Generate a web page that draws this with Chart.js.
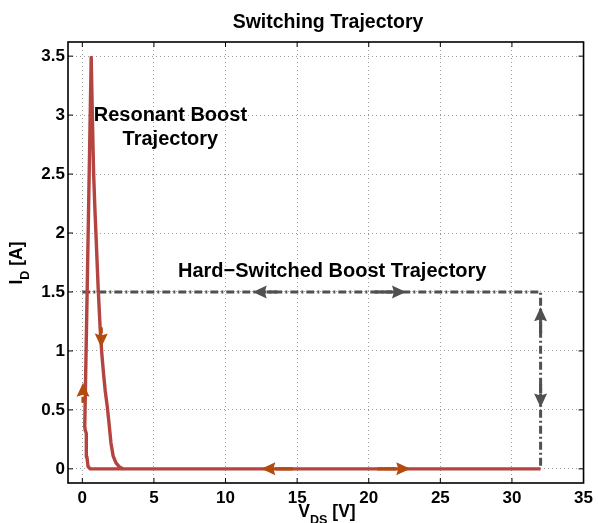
<!DOCTYPE html>
<html>
<head>
<meta charset="utf-8">
<script src="https://cdn.jsdelivr.net/npm/chart.js@4.4.1/dist/chart.umd.min.js"></script>
<style>
  html, body { margin: 0; padding: 0; background: #fff; }
  #wrap { width: 598px; height: 523px; }
</style>
</head>
<body>
<div id="wrap"><canvas id="traj" width="598" height="523"></canvas></div>
<script>
// tick values
var vTicks = [0, 5, 10, 15, 20, 25, 30, 35];
var iTicks = [0, 0.5, 1, 1.5, 2, 2.5, 3, 3.5];

// resonant boost loop (V_DS in V, I_D in A)
var resV = [32, 2.83, 0.55, 0.4, 0.32, 0.28, 0.2, 0.17, 0.36, 0.62,
            0.7, 0.79, 0.88, 0.97, 1.1, 1.25, 1.36, 1.48, 1.6, 1.74, 1.87, 2.0, 2.15, 2.35, 2.6, 2.83];
var resI = [0, 0, 0, 0.02, 0.1, 0.3, 0.33, 0.36, 1.66, 3.49,
            3.0, 2.5, 2.2, 1.94, 1.55, 1.18, 0.98, 0.81, 0.66, 0.53, 0.38, 0.22, 0.11, 0.05, 0.015, 0];

// hard-switched boost trajectory
var hardV = [0, 32, 32];
var hardI = [1.5, 1.5, 0];

// arrows: from (tail) -> to (tip)
var redFromV = [0.05, 1.32, 14.7, 20.6];
var redFromI = [0.56, 1.2, 0, 0];
var redToV   = [0.05, 1.32, 12.5, 22.9];
var redToI   = [0.73, 1.03, 0, 0];
var grayFromV = [13.6, 20.4, 32, 32];
var grayFromI = [1.5, 1.5, 1.15, 0.72];
var grayToV   = [11.9, 22.6, 32, 32];
var grayToI   = [1.5, 1.5, 1.37, 0.52];

var RED = '#b3443f', ORANGE = '#b44a0c', GRAY = '#505050';
var FONT = '"Liberation Sans", Arial, Helvetica, sans-serif';

function pts(xs, ys) {
  return xs.map(function (v, i) { return { x: v, y: ys[i] }; });
}

function drawArrow(ctx, x0, y0, x1, y1, color) {
  var a = Math.atan2(y1 - y0, x1 - x0);
  var hl = 14, hw = 13;
  var bx = x1 - hl * Math.cos(a), by = y1 - hl * Math.sin(a);
  ctx.save();
  ctx.setLineDash([]);
  ctx.strokeStyle = color;
  ctx.lineWidth = 3.2;
  ctx.beginPath();
  ctx.moveTo(x0, y0);
  ctx.lineTo(bx, by);
  ctx.stroke();
  ctx.fillStyle = color;
  ctx.beginPath();
  ctx.moveTo(x1, y1);
  ctx.lineTo(bx + hw / 2 * Math.sin(a), by - hw / 2 * Math.cos(a));
  ctx.lineTo(bx + 2 * Math.cos(a), by + 2 * Math.sin(a));
  ctx.lineTo(bx - hw / 2 * Math.sin(a), by + hw / 2 * Math.cos(a));
  ctx.closePath();
  ctx.fill();
  ctx.restore();
}

function subText(ctx, x, y, main, sub, rest, size) {
  ctx.font = 'bold ' + size + 'px ' + FONT;
  var w1 = ctx.measureText(main).width;
  var w3 = ctx.measureText(rest).width;
  ctx.font = 'bold ' + (size * 0.72) + 'px ' + FONT;
  var w2 = ctx.measureText(sub).width;
  var s = x - (w1 + w2 + w3) / 2;
  ctx.textAlign = 'left';
  ctx.font = 'bold ' + size + 'px ' + FONT;
  ctx.fillText(main, s, y);
  ctx.fillText(rest, s + w1 + w2, y);
  ctx.font = 'bold ' + (size * 0.72) + 'px ' + FONT;
  ctx.fillText(sub, s + w1, y + size * 0.38);
}

var decor = {
  id: 'decor',
  afterDatasetsDraw: function (chart) {
    var ctx = chart.ctx, sx = chart.scales.x, sy = chart.scales.y, a = chart.chartArea;
    var i;
    for (i = 0; i < grayToV.length; i++) {
      drawArrow(ctx, sx.getPixelForValue(grayFromV[i]), sy.getPixelForValue(grayFromI[i]),
        sx.getPixelForValue(grayToV[i]), sy.getPixelForValue(grayToI[i]), GRAY);
    }
    for (i = 0; i < redToV.length; i++) {
      drawArrow(ctx, sx.getPixelForValue(redFromV[i]), sy.getPixelForValue(redFromI[i]),
        sx.getPixelForValue(redToV[i]), sy.getPixelForValue(redToI[i]), ORANGE);
    }
    // frame and inward ticks
    ctx.save();
    ctx.setLineDash([]);
    ctx.strokeStyle = '#000';
    ctx.lineWidth = 1;
    ctx.beginPath();
    vTicks.forEach(function (v) {
      var px = sx.getPixelForValue(v);
      ctx.moveTo(px, a.bottom); ctx.lineTo(px, a.bottom - 5);
      ctx.moveTo(px, a.top); ctx.lineTo(px, a.top + 5);
    });
    iTicks.forEach(function (v) {
      var py = sy.getPixelForValue(v);
      ctx.moveTo(a.left, py); ctx.lineTo(a.left + 5, py);
      ctx.moveTo(a.right, py); ctx.lineTo(a.right - 5, py);
    });
    ctx.stroke();
    ctx.lineWidth = 1.6;
    ctx.strokeRect(a.left, a.top, a.right - a.left, a.bottom - a.top);
    ctx.restore();
  },
  afterDraw: function (chart) {
    var ctx = chart.ctx, sx = chart.scales.x, sy = chart.scales.y;
    ctx.save();
    ctx.fillStyle = '#000';
    ctx.textBaseline = 'alphabetic';
    ctx.textAlign = 'center';
    ctx.font = 'bold 19.5px ' + FONT;
    ctx.fillText('Switching Trajectory', 328, 28);

    ctx.font = 'bold 20px ' + FONT;
    ctx.fillText('Resonant Boost', sx.getPixelForValue(6.15), sy.getPixelForValue(2.95));
    ctx.fillText('Trajectory', sx.getPixelForValue(6.15), sy.getPixelForValue(2.745));
    ctx.fillText('Hard\u2212Switched Boost Trajectory', sx.getPixelForValue(17.45), sy.getPixelForValue(1.63));

    subText(ctx, 327, 517, 'V', 'DS', ' [V]', 17.5);

    ctx.translate(22, 263);
    ctx.rotate(-Math.PI / 2);
    subText(ctx, 0, 0, 'I', 'D', ' [A]', 17.5);
    ctx.restore();
  }
};

var chart = new Chart(document.getElementById('traj').getContext('2d'), {
  type: 'scatter',
  data: {
    datasets: [
      {
        label: 'Resonant Boost Trajectory',
        data: pts(resV, resI),
        showLine: true,
        borderColor: RED,
        borderWidth: 3.4,
        pointRadius: 0,
        tension: 0,
        borderJoinStyle: 'round'
      },
      {
        label: 'Hard-Switched Boost Trajectory',
        data: pts(hardV, hardI),
        showLine: true,
        borderColor: GRAY,
        borderWidth: 3,
        borderDash: [8, 3, 2, 3],
        pointRadius: 0,
        tension: 0
      }
    ]
  },
  options: {
    responsive: false,
    animation: false,
    devicePixelRatio: 1,
    layout: { padding: { top: 42, right: 13, bottom: 0, left: 0 } },
    plugins: { legend: { display: false }, title: { display: false }, tooltip: { enabled: false } },
    scales: {
      x: {
        type: 'linear',
        min: -1,
        max: 35,
        afterBuildTicks: function (s) { s.ticks = vTicks.map(function (v) { return { value: v }; }); },
        afterFit: function (s) { s.height = 40; },
        grid: { color: '#9c9c9c', lineWidth: 1, drawTicks: false },
        border: { display: false, dash: [1, 3] },
        ticks: {
          padding: 5,
          autoSkip: false,
          maxRotation: 0,
          color: '#000',
          font: { family: FONT, size: 17, weight: 'bold' },
          callback: function (v) { return String(v); }
        }
      },
      y: {
        type: 'linear',
        min: -0.12,
        max: 3.62,
        afterBuildTicks: function (s) { s.ticks = iTicks.map(function (v) { return { value: v }; }); },
        afterFit: function (s) { s.width = 68; },
        grid: { color: '#9c9c9c', lineWidth: 1, drawTicks: false },
        border: { display: false, dash: [1, 3] },
        ticks: {
          padding: 3,
          color: '#000',
          font: { family: FONT, size: 17, weight: 'bold' },
          callback: function (v) { return String(v); }
        }
      }
    }
  },
  plugins: [decor]
});
</script>
</body>
</html>
